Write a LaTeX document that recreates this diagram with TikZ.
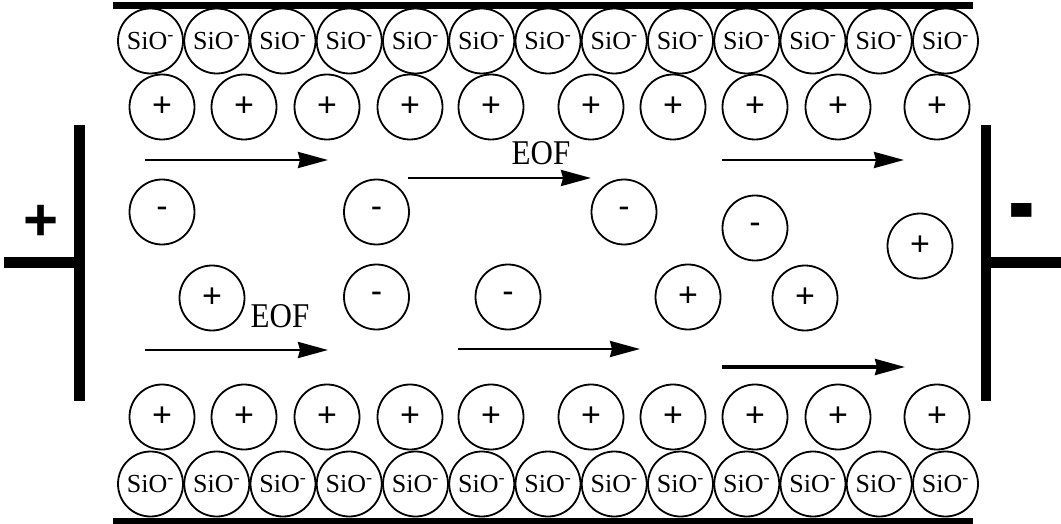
\documentclass[tikz,border=0pt]{standalone}
\usepackage{fontspec}
\setmainfont{Liberation Serif}
\newfontfamily\sansf{Liberation Sans}
\usetikzlibrary{arrows.meta}
\begin{document}
\begin{tikzpicture}[x=1pt,y=-1pt,
  ion/.style={circle,draw,line width=1.8pt,minimum size=65pt,inner sep=0pt},
  sio/.style={ion,font=\fontsize{26}{26}\selectfont},
  chg/.style={ion,font=\sansf\fontsize{34}{34}\selectfont},
  bar/.style={line width=7pt},
  electrode/.style={line width=10.5pt},
  flow/.style={line width=2.6pt,-{Stealth[length=30pt,width=16pt,inset=2pt]}},
  eof/.style={font=\fontsize{31}{31}\selectfont,inner sep=0pt},
  pole/.style={font=\sansf\bfseries\fontsize{60}{60}\selectfont,inner sep=0pt}]
\useasboundingbox (0,0) rectangle (1061,524);
% walls
\coordinate (wt1) at (113,5.5);  \coordinate (wt2) at (973,5.5);
\coordinate (wb1) at (113,521);  \coordinate (wb2) at (973,521);
\draw[bar] (wt1) -- (wt2);
\draw[bar,line width=6pt] (wb1) -- (wb2);
% electrodes
\coordinate (el1) at (79.5,125); \coordinate (el2) at (79.5,401);
\coordinate (el3) at (4,262.5);  \coordinate (el4) at (84,262.5);
\coordinate (er1) at (986,125);  \coordinate (er2) at (986,401);
\coordinate (er3) at (981,262.5); \coordinate (er4) at (1061,262.5);
\draw[electrode] (el1) -- (el2);
\draw[electrode,line width=11pt] (el3) -- (el4);
\draw[electrode] (er1) -- (er2);
\draw[electrode,line width=11pt] (er3) -- (er4);
\node[pole] (pplus) at (41,223) {+};
\node[pole,font=\sansf\bfseries\fontsize{80}{80}\selectfont] (pminus) at (1022,222) {\scalebox{1}[1.45]{-}};
% SiO- rows
\foreach \i in {0,...,12} {
  \node[sio] (st\i) at ({150.5+66.25*\i},41) {SiO\textsuperscript{-}};
  \node[sio] (sb\i) at ({150.5+66.25*\i},484) {SiO\textsuperscript{-}};
}
% + rows
\foreach \x [count=\k] in {162,244,327,410,491,591,673,755,838,937} {
  \node[chg] (pt\k) at (\x,107) {+};
  \node[chg] (pb\k) at (\x,417) {+};
}
% free ions
\node[chg] (m1) at (162,212) {-};
\node[chg] (m2) at (212,298) {+};
\node[chg] (m3) at (376.5,212) {-};
\node[chg] (m4) at (376.5,297) {-};
\node[chg] (m5) at (508,297) {-};
\node[chg] (m6) at (624,212) {-};
\node[chg] (m7) at (688,297) {+};
\node[chg] (m8) at (755,228) {-};
\node[chg] (m9) at (805,298) {+};
\node[chg] (m10) at (920,246) {+};
% EOF arrows
\coordinate (a1s) at (145,160); \coordinate (a1e) at (328,160);
\coordinate (a2s) at (408,178); \coordinate (a2e) at (591,178);
\coordinate (a3s) at (722,160); \coordinate (a3e) at (904,160);
\coordinate (a4s) at (145,350); \coordinate (a4e) at (328,350);
\coordinate (a5s) at (458,349); \coordinate (a5e) at (640,349);
\coordinate (a6s) at (722,367); \coordinate (a6e) at (905,367);
\draw[flow] (a1s) -- (a1e);
\draw[flow] (a2s) -- (a2e);
\draw[flow] (a3s) -- (a3e);
\draw[flow] (a4s) -- (a4e);
\draw[flow] (a5s) -- (a5e);
\draw[flow,line width=3.2pt] (a6s) -- (a6e);
\node[eof] (eof1) at (541,153) {\scalebox{1}[1.12]{EOF}};
\node[eof] (eof2) at (280,316) {\scalebox{1}[1.12]{EOF}};
\end{tikzpicture}
\end{document}
